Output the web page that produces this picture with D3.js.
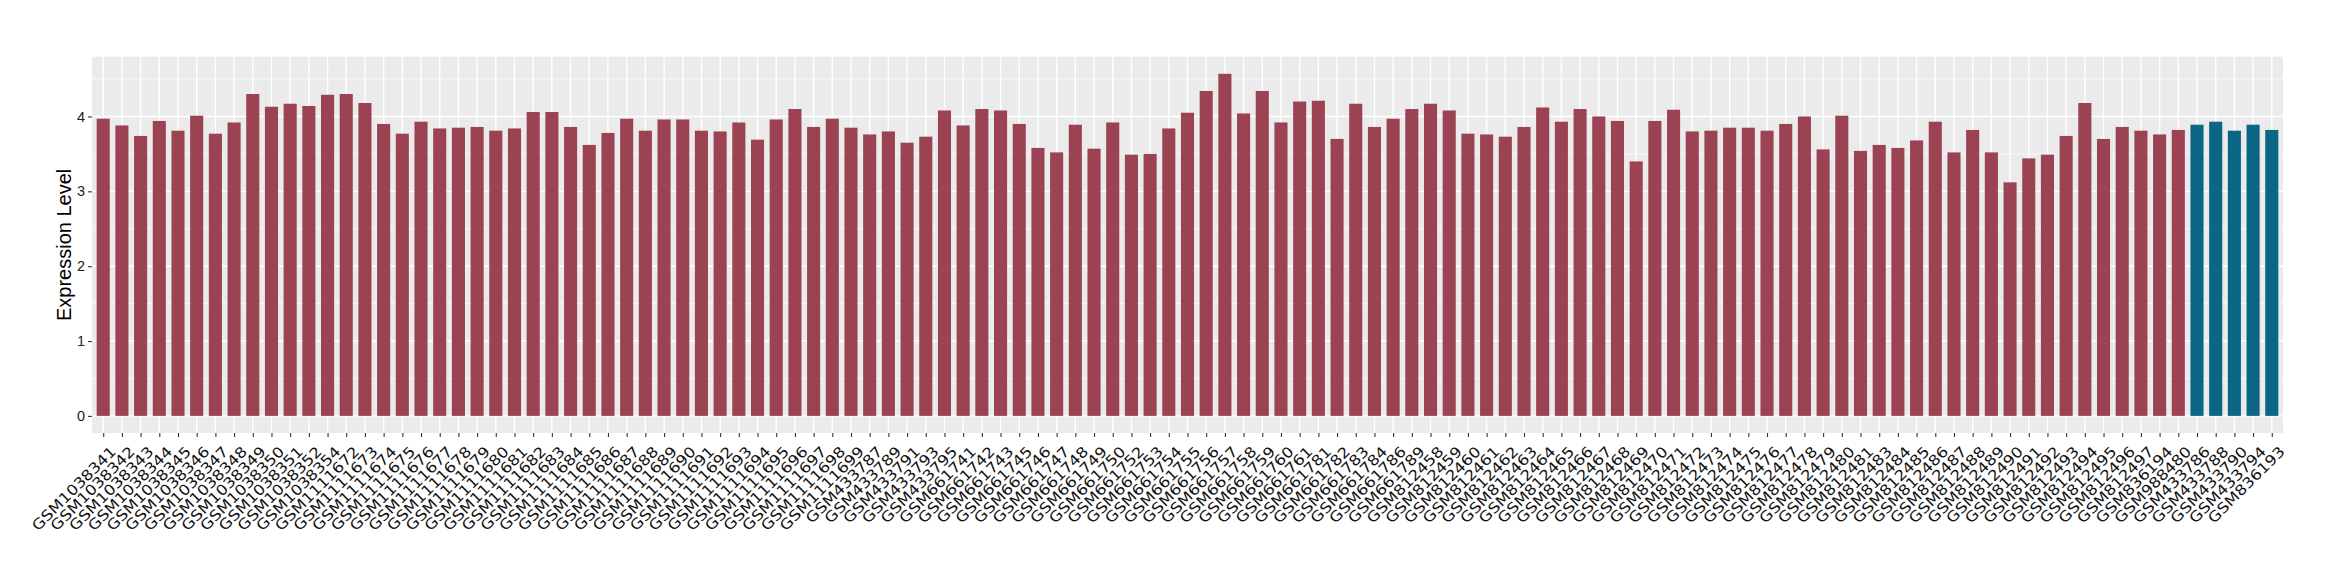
<!DOCTYPE html>
<html>
<head>
<meta charset="utf-8">
<script src="https://cdn.jsdelivr.net/npm/d3@7"></script>
<style>
  html, body { margin: 0; padding: 0; background: #fff; }
  svg { display: block; }
</style>
</head>
<body>
<script>
const samples = [
  "GSM1038341","GSM1038342","GSM1038343","GSM1038344","GSM1038345","GSM1038346","GSM1038347","GSM1038348","GSM1038349","GSM1038350","GSM1038351","GSM1038352","GSM1038354",
  "GSM1111672","GSM1111673","GSM1111674","GSM1111675","GSM1111676","GSM1111677","GSM1111678","GSM1111679","GSM1111680","GSM1111681","GSM1111682","GSM1111683","GSM1111684","GSM1111685","GSM1111686","GSM1111687","GSM1111688","GSM1111689","GSM1111690","GSM1111691","GSM1111692","GSM1111693","GSM1111694","GSM1111695","GSM1111696","GSM1111697","GSM1111698","GSM1111699",
  "GSM433787","GSM433789","GSM433791","GSM433793","GSM433795",
  "GSM661741","GSM661742","GSM661743","GSM661745","GSM661746","GSM661747","GSM661748","GSM661749","GSM661750","GSM661752","GSM661753","GSM661754","GSM661755","GSM661756","GSM661757","GSM661758","GSM661759","GSM661760","GSM661761","GSM661781","GSM661782","GSM661783","GSM661784","GSM661786","GSM661789",
  "GSM812458","GSM812459","GSM812460","GSM812461","GSM812462","GSM812463","GSM812464","GSM812465","GSM812466","GSM812467","GSM812468","GSM812469","GSM812470","GSM812471","GSM812472","GSM812473","GSM812474","GSM812475","GSM812476","GSM812477","GSM812478","GSM812479","GSM812480","GSM812481","GSM812483","GSM812484","GSM812485","GSM812486","GSM812487","GSM812488","GSM812489","GSM812490","GSM812491","GSM812492","GSM812493","GSM812494","GSM812495","GSM812496","GSM812497",
  "GSM836194","GSM988480",
  "GSM433786","GSM433788","GSM433790","GSM433794","GSM836193"
];
const values = [
  3.97,3.88,3.74,3.94,3.81,4.01,3.77,3.92,4.30,4.13,4.17,4.14,4.29,
  4.30,4.18,3.90,3.77,3.93,3.84,3.85,3.86,3.81,3.84,4.06,4.06,3.86,3.62,3.78,3.97,3.81,3.96,3.96,3.81,3.80,3.92,3.69,3.96,4.10,3.86,3.97,3.85,
  3.76,3.80,3.65,3.73,4.08,
  3.88,4.10,4.08,3.90,3.58,3.52,3.89,3.57,3.92,3.49,3.50,3.84,4.05,4.34,4.57,4.04,4.34,3.92,4.20,4.21,3.70,4.17,3.86,3.97,4.10,
  4.17,4.08,3.77,3.76,3.73,3.86,4.12,3.93,4.10,4.00,3.94,3.40,3.94,4.09,3.80,3.81,3.85,3.85,3.81,3.90,4.00,3.56,4.01,3.54,3.62,3.58,3.68,3.93,3.52,3.82,3.52,3.12,3.44,3.49,3.74,4.18,3.70,3.86,3.81,
  3.76,3.82,
  3.89,3.93,3.81,3.89,3.82
];
const groups = samples.map((s, i) => i >= 112 ? "test" : "ref");
const yTicks = [0, 1, 2, 3, 4];
const yMinor = [0.5, 1.5, 2.5, 3.5, 4.5];
const yTitle = "Expression Level";
const colors = { ref: "#9B4352", test: "#0B6584" };

const W = 2340, H = 580;
const panel = { left: 92, right: 2283, top: 56.7, bottom: 433 };

const svg = d3.select("body").append("svg").attr("width", W).attr("height", H);

const x = d3.scalePoint().domain(samples).range([panel.left, panel.right]).padding(0.6);
const step = x.step();
const maxV = d3.max(values);
const y = d3.scaleLinear().domain([-0.05 * maxV, maxV * 1.05]).range([panel.bottom, panel.top]);

// panel background
svg.append("rect").attr("x", panel.left).attr("y", panel.top)
  .attr("width", panel.right - panel.left).attr("height", panel.bottom - panel.top)
  .attr("fill", "#EBEBEB");

// minor gridlines
svg.append("g").selectAll("line").data(yMinor.filter(v => y(v) > panel.top)).join("line")
  .attr("x1", panel.left).attr("x2", panel.right)
  .attr("y1", d => y(d)).attr("y2", d => y(d))
  .attr("stroke", "#fff").attr("stroke-width", 0.7);
// major gridlines
svg.append("g").selectAll("line").data(yTicks).join("line")
  .attr("x1", panel.left).attr("x2", panel.right)
  .attr("y1", d => y(d)).attr("y2", d => y(d))
  .attr("stroke", "#fff").attr("stroke-width", 1.4);
svg.append("g").selectAll("line").data(samples).join("line")
  .attr("x1", d => x(d)).attr("x2", d => x(d))
  .attr("y1", panel.top).attr("y2", panel.bottom)
  .attr("stroke", "#fff").attr("stroke-width", 1.4);

// bars
svg.append("g").selectAll("rect").data(samples).join("rect")
  .attr("x", d => x(d) - step * 0.35)
  .attr("width", step * 0.7)
  .attr("y", (d, i) => y(values[i]))
  .attr("height", (d, i) => y(0) - y(values[i]))
  .attr("fill", (d, i) => colors[groups[i]]);

// y axis
const yAxis = d3.axisLeft(y).tickValues(yTicks).tickSize(4).tickPadding(3).tickFormat(d3.format("d"));
const gy = svg.append("g").attr("transform", `translate(${panel.left},0)`).call(yAxis);
gy.select(".domain").remove();
gy.selectAll(".tick line").attr("stroke", "#333").attr("stroke-width", 1.1);
gy.selectAll(".tick text").attr("fill", "#222").style("font-family", "Liberation Sans, Arial, sans-serif").style("font-size", "14.5px");

// x axis
const xAxis = d3.axisBottom(x).tickSize(4).tickPadding(2);
const gx = svg.append("g").attr("transform", `translate(0,${panel.bottom})`).call(xAxis);
gx.select(".domain").remove();
gx.selectAll(".tick line").attr("stroke", "#333").attr("stroke-width", 1.1);
gx.selectAll(".tick text")
  .attr("fill", "#111")
  .style("font-family", "DejaVu Sans, sans-serif")
  .style("font-size", "14.5px")
  .attr("text-anchor", "end")
  .attr("y", 0)
  .attr("dy", "0.72em")
  .attr("transform", "translate(6,12) rotate(-45) scale(1.15,1)");

// y title
svg.append("text")
  .attr("transform", `translate(71,${(panel.top + panel.bottom) / 2}) rotate(-90)`)
  .attr("text-anchor", "middle")
  .style("font-family", "Liberation Sans, Arial, sans-serif")
  .style("font-size", "20px")
  .attr("fill", "#000")
  .text(yTitle);
</script>
</body>
</html>
